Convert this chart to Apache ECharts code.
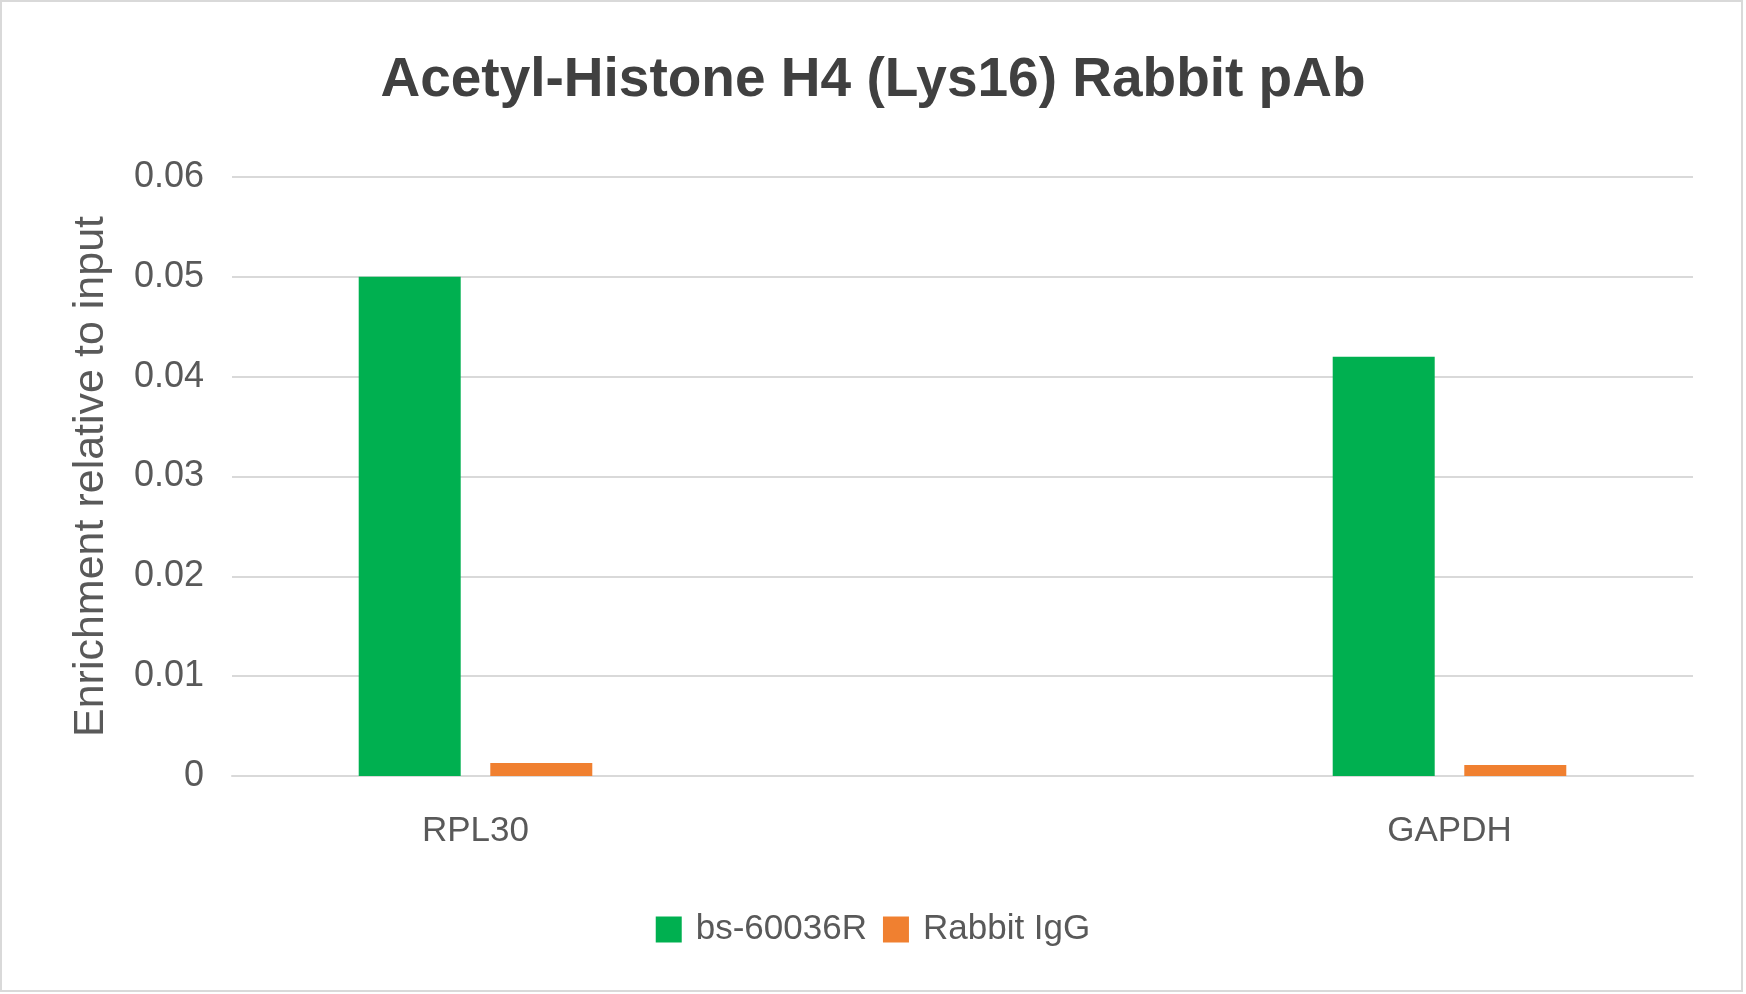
<!DOCTYPE html>
<html>
<head>
<meta charset="utf-8">
<script src="https://cdn.jsdelivr.net/npm/echarts@6/dist/echarts.min.js"></script>
<style>
html,body{margin:0;padding:0;background:#fff;}
#c{width:1746px;height:994px;box-sizing:border-box;}
#frame{position:absolute;left:0;top:0;width:1743px;height:992px;border:2px solid #D9D9D9;box-sizing:border-box;pointer-events:none;}
</style>
</head>
<body>
<div id="c"></div>
<div id="frame"></div>
<script>
const categories = ['RPL30', '', 'GAPDH'];
const seriesNames = ['bs-60036R', 'Rabbit IgG'];
const bsValues = [0.050, null, 0.042];
const iggValues = [0.0013, null, 0.0011];
const yTicks = [0, 0.01, 0.02, 0.03, 0.04, 0.05, 0.06];

const chart = echarts.init(document.getElementById('c'), null, {renderer: 'canvas'});
const font = 'Liberation Sans';
chart.setOption({
  backgroundColor: '#ffffff',
  animation: false,
  title: {
    text: 'Acetyl-Histone H4 (Lys16) Rabbit pAb',
    left: 'center',
    top: 48,
    textStyle: {fontFamily: font, fontWeight: 'bold', fontSize: 55, color: '#404040'}
  },
  legend: {
    data: seriesNames,
    top: 907,
    left: 'center',
    itemWidth: 26,
    itemHeight: 26,
    itemGap: 16,
    icon: 'rect',
    textStyle: {fontFamily: font, fontSize: 35, color: '#595959', padding: [0, 0, 0, 9]}
  },
  grid: {left: 232, right: 53, top: 177, bottom: 218, containLabel: false},
  xAxis: {
    type: 'category',
    data: categories,
    axisLine: {show: true, lineStyle: {color: '#D9D9D9', width: 2}},
    axisTick: {show: false},
    axisLabel: {fontFamily: font, fontSize: 35, color: '#595959', margin: 38, interval: 0}
  },
  yAxis: {
    type: 'value',
    min: yTicks[0],
    max: yTicks[yTicks.length - 1],
    interval: 0.01,
    name: 'Enrichment relative to input',
    nameLocation: 'middle',
    nameRotate: 90,
    nameGap: 119,
    nameTextStyle: {fontFamily: font, fontSize: 43, color: '#595959'},
    axisLine: {show: false},
    axisTick: {show: false},
    splitLine: {lineStyle: {color: '#D9D9D9', width: 2}},
    axisLabel: {
      fontFamily: font, fontSize: 36, color: '#595959', margin: 28,
      formatter: function (v) { return String(Math.round(v * 100) / 100); }
    }
  },
  series: [
    {name: seriesNames[0], type: 'bar', data: bsValues, barWidth: 102, barGap: '29%',
     itemStyle: {color: '#00B050'}},
    {name: seriesNames[1], type: 'bar', data: iggValues, barWidth: 102,
     itemStyle: {color: '#F08030'}}
  ]
});
</script>
</body>
</html>
